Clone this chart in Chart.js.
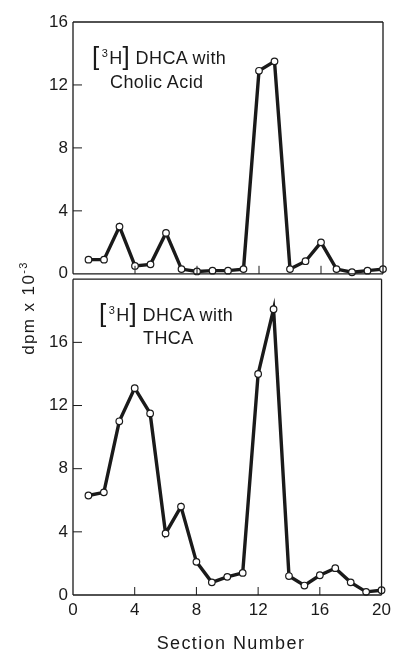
<!DOCTYPE html>
<html>
<head>
<meta charset="utf-8">
<script src="https://cdn.jsdelivr.net/npm/chart.js@4"></script>
<style>
  html, body { margin:0; padding:0; background:#fff; }
  body { width:396px; height:653px; position:relative; overflow:hidden;
         font-family:"Liberation Sans", Arial, sans-serif; color:#1a1a1a; }
  canvas { position:absolute; left:0; }
  .lbl { position:absolute; white-space:nowrap; font-size:18px; line-height:22px; letter-spacing:0.4px; }
  .br { font-size:26px; font-weight:300; position:relative; top:1px; }
  .sup { font-size:11px; position:relative; top:-7px; margin:0 1px 0 2px; }
  #ytitle { position:absolute; width:150px; height:22px; line-height:22px; left:-52px; top:297px;
            text-align:center; font-size:17px; letter-spacing:1.4px; transform:rotate(-90deg); }
  #ytitle sup { font-size:11px; }
  #xtitle { position:absolute; left:73px; width:316px; top:631px; height:24px; line-height:24px;
            text-align:center; font-size:18px; letter-spacing:1.4px; }
</style>
</head>
<body>
<canvas id="c1" width="396" height="289" style="top:0;width:396px;height:289px"></canvas>
<canvas id="c2" width="396" height="389" style="top:264px;width:396px;height:389px"></canvas>

<div class="lbl" style="left:92px;top:44px"><span class="br">[</span><span class="sup">3</span>H<span class="br">]</span> DHCA with</div>
<div class="lbl" style="left:110px;top:71px">Cholic Acid</div>
<div class="lbl" style="left:99px;top:301px"><span class="br">[</span><span class="sup">3</span>H<span class="br">]</span> DHCA with</div>
<div class="lbl" style="left:143px;top:327px">THCA</div>
<div id="ytitle">dpm x 10<sup>-3</sup></div>
<div id="xtitle">Section Number</div>

<script>
// ---- data ----
const sections = [1,2,3,4,5,6,7,8,9,10,11,12,13,14,15,16,17,18,19,20];
const cholicAcid = [0.9,0.9,3.0,0.5,0.6,2.6,0.3,0.15,0.2,0.2,0.3,12.9,13.5,0.3,0.8,2.0,0.3,0.1,0.2,0.3];
const thca = [6.3,6.5,11.0,13.1,11.5,3.9,5.6,2.1,0.8,1.15,1.4,14.0,18.1,1.2,0.6,1.25,1.7,0.8,0.2,0.3];
const xTicks = [0,4,8,12,16,20];
const yTicksTop = [0,4,8,12,16];
const yTicksBottom = [0,4,8,12,16];

const INK = '#1a1a1a';

function framePlugin(sides, xInner, yInner) {
  return {
    id: 'frame',
    afterDatasetsDraw(chart) {
      const {ctx, chartArea: a, scales} = chart;
      ctx.save();
      ctx.strokeStyle = INK;
      ctx.lineWidth = 1.3;
      ctx.beginPath();
      if (sides.top) { ctx.moveTo(a.left, a.top); ctx.lineTo(a.right, a.top); }
      if (sides.left) { ctx.moveTo(a.left, a.top); ctx.lineTo(a.left, a.bottom); }
      if (sides.right) { ctx.moveTo(a.right, a.top); ctx.lineTo(a.right, a.bottom); }
      if (sides.bottom) { ctx.moveTo(a.left, a.bottom); ctx.lineTo(a.right, a.bottom); }
      ctx.stroke();
      ctx.lineWidth = 1;
      ctx.beginPath();
      xInner.forEach(v => {
        const px = scales.x.getPixelForValue(v);
        ctx.moveTo(px, a.bottom); ctx.lineTo(px, a.bottom - 8);
      });
      yInner.forEach(v => {
        const py = scales.y.getPixelForValue(v);
        ctx.moveTo(a.left, py); ctx.lineTo(a.left + 9, py);
      });
      ctx.stroke();
      ctx.restore();
    }
  };
}

function makeDataset(vals) {
  return {
    data: sections.map((s, i) => ({x: s, y: vals[i]})),
    borderColor: INK,
    borderWidth: 3.4,
    pointRadius: 3.3,
    pointBorderWidth: 1.2,
    pointBackgroundColor: '#fff',
    pointBorderColor: INK,
    tension: 0,
    clip: false
  };
}

const tickFont = {family: '"Liberation Sans", Arial, sans-serif', size: 17};

// top panel
new Chart(document.getElementById('c1'), {
  type: 'line',
  data: { datasets: [makeDataset(cholicAcid)] },
  options: {
    responsive: false, animation: false, devicePixelRatio: 1,
    layout: { padding: {top: 22, right: 13, bottom: 8, left: 0} },
    plugins: { legend: {display: false}, tooltip: {enabled: false} },
    scales: {
      x: { type: 'linear', min: 0, max: 20, display: false },
      y: {
        min: 0, max: 16,
        afterBuildTicks: s => { s.ticks = yTicksTop.map(v => ({value: v})); },
        afterFit: s => { s.width = 73; },
        grid: {display: false, drawTicks: false},
        border: {display: false},
        ticks: { font: tickFont, color: INK, padding: 5 }
      }
    }
  },
  plugins: [framePlugin({top: true, left: true, right: true, bottom: true}, [4, 8, 12, 16], [4, 8, 12])]
});

// bottom panel
new Chart(document.getElementById('c2'), {
  type: 'line',
  data: { datasets: [makeDataset(thca)] },
  options: {
    responsive: false, animation: false, devicePixelRatio: 1,
    layout: { padding: {top: 3, right: 13, bottom: 0, left: 0} },
    plugins: { legend: {display: false}, tooltip: {enabled: false} },
    scales: {
      x: {
        type: 'linear', min: 0, max: 20,
        afterBuildTicks: s => { s.ticks = xTicks.map(v => ({value: v})); },
        afterFit: s => { s.height = 58; },
        grid: {display: false, drawTicks: false},
        border: {display: false},
        ticks: { font: tickFont, color: INK, padding: 5, maxRotation: 0 }
      },
      y: {
        min: 0, max: 20,
        afterBuildTicks: s => { s.ticks = yTicksBottom.map(v => ({value: v})); },
        afterFit: s => { s.width = 73; },
        grid: {display: false, drawTicks: false},
        border: {display: false},
        ticks: { font: tickFont, color: INK, padding: 5 }
      }
    }
  },
  plugins: [framePlugin({top: true, left: true, right: true, bottom: true}, [4, 8, 12, 16], [4, 8, 12, 16])]
});
</script>
</body>
</html>
